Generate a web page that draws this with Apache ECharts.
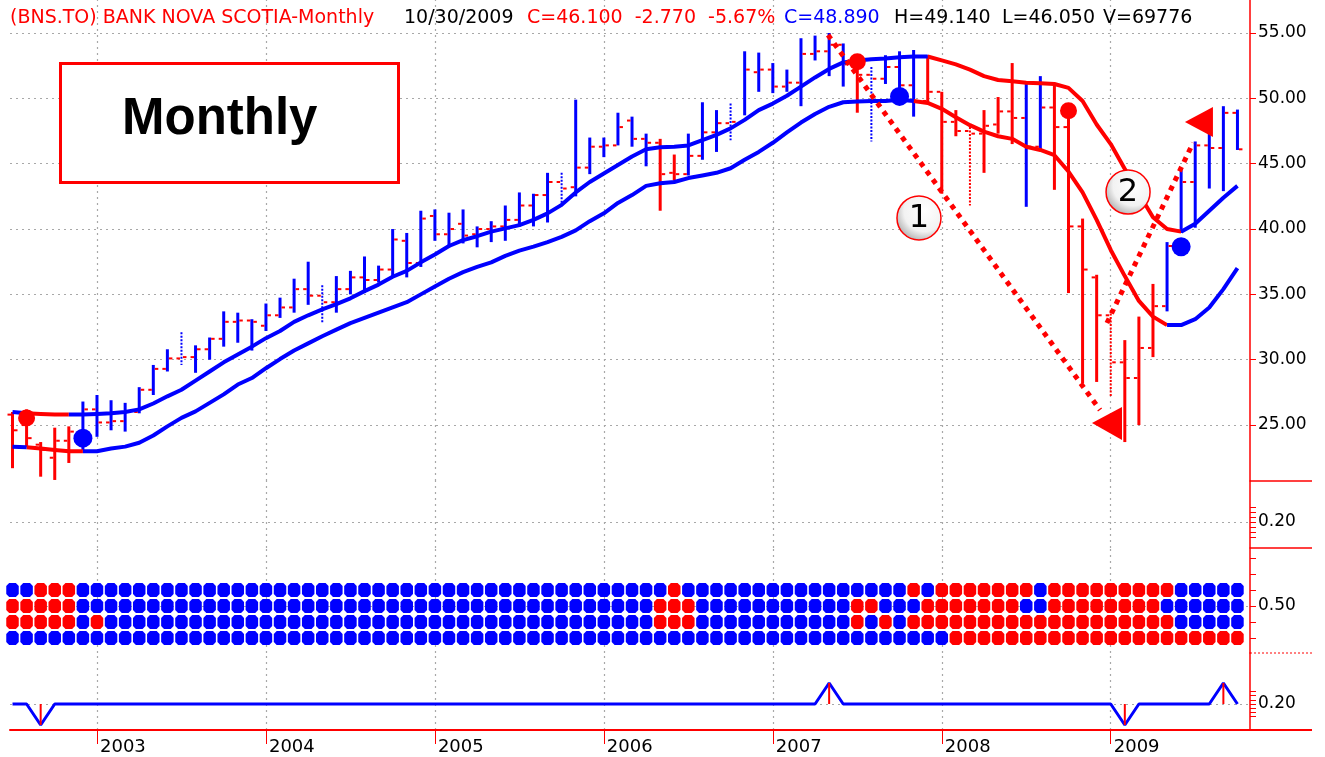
<!DOCTYPE html>
<html><head><meta charset="utf-8">
<script src="https://cdn.jsdelivr.net/npm/echarts@6/dist/echarts.min.js"></script>
<style>html,body{margin:0;padding:0;background:#fff}#c{width:1325px;height:757px}</style>
</head><body><div id="c"></div>
<script>
// ---------- DATA ----------
const yearLabels = ['2003','2004','2005','2006','2007','2008','2009'];
const yearTickIndex = [6,18,30,42,54,66,78];           // month index of January of each year (0 = Jul 2002)
const priceTicks = [25,30,35,40,45,50,55];

const barOpen = [25.8,25.0,23.5,22.5,23.8, 24.5,26.2,25.2,25.3,26.0, 27.7,29.3,30.1,30.2,30.8, 31.6,32.9,33.0,32.6,33.4,
  34.0,35.4,34.9,34.4,35.4, 36.3,36.1,36.9,39.1,37.4, 41.0,39.6,40.4,39.6,40.0, 40.2,40.7,41.8,42.6,43.6,
  43.2,44.7,46.3,46.4,48.3, 46.9,46.6,44.3,44.2,45.6, 47.4,48.1,48.2,52.0,52.2, 50.9,51.2,53.4,53.6,54.1,
  52.6,51.8,51.5,52.4,51.0, 49.8,50.5,48.2,47.5,47.3, 48.0,49.0,48.5,46.3,49.3, 47.8,40.2,36.3,33.4,29.8,
  28.6,30.9,34.1,39.9,43.6, 46.4,46.2,48.89];
const barHigh = [26.0,26.2,23.7,24.8,24.9, 26.8,27.3,26.9,26.7,27.9, 29.6,30.8,32.1,31.1,31.7, 33.7,33.6,33.1,34.3,34.75,
  36.2,37.5,35.7,36.4,36.8, 37.9,37.2,40.0,39.7,41.4, 41.5,41.25,41.5,40.2,40.6, 41.8,42.8,42.7,44.3,44.3,
  49.9,47.0,47.0,48.9,48.6, 47.3,46.9,45.7,47.3,49.7, 49.1,49.6,53.6,53.5,52.7, 52.2,54.6,54.8,55.0,54.2,
  53.1,52.4,53.3,53.6,53.7, 53.3,50.5,49.1,47.8,49.1, 50.1,52.7,51.2,51.7,51.0, 49.4,40.8,36.5,33.8,31.5,
  33.3,35.8,39.0,44.5,46.7, 47.3,49.4,49.14];
const barLow = [21.7,23.3,21.05,20.8,22.1, 23.1,24.1,24.6,24.5,25.9, 27.3,29.1,29.6,29.0,30.0, 31.0,31.3,30.7,32.2,33.2,
  33.6,34.2,32.8,33.6,35.0, 35.1,35.9,36.3,36.3,37.1, 39.1,38.6,38.9,38.6,39.0, 39.1,40.2,40.2,40.5,41.7,
  42.5,44.2,45.5,46.4,46.3, 44.8,41.4,43.7,44.1,45.3, 45.9,46.8,48.7,50.5,50.4, 50.5,49.4,52.9,51.7,50.9,
  48.9,46.7,51.1,49.5,48.6, 49.7,42.7,47.1,41.8,44.3, 47.3,46.5,41.7,46.0,43.0, 35.1,28.2,28.3,27.2,23.7,
  25.0,30.2,33.7,39.7,40.1, 43.1,42.9,46.05];
const barClose = [24.6,24.0,23.1,23.8,24.5, 26.2,25.2,25.3,26.0,27.7, 29.3,30.1,30.2,30.8,31.6, 32.9,33.0,32.9,33.4,34.0,
  35.4,34.9,34.4,35.4,36.3, 36.1,36.9,39.2,37.4,40.8, 39.6,40.0,39.5,40.0,40.2, 40.7,41.8,42.6,43.6,43.1,
  44.7,46.3,46.4,47.8,46.9, 46.6,44.2,44.2,45.6,47.4, 48.1,48.2,52.2,52.2,50.9, 51.2,53.4,53.6,54.1,52.6,
  51.8,51.5,52.4,51.0,49.8, 50.5,48.2,47.5,47.3,47.9, 49.0,48.5,46.3,49.3,47.8, 40.2,36.9,33.4,29.8,28.6,
  30.9,34.1,38.7,43.6,46.4, 46.2,48.89,46.1];
// bar trend state (R = down, B = up) as runs
const barTrendRuns = [['R',5],['B',41],['R',2],['B',12],['R',1],['B',4],['R',7],['B',2],['R',8],['B',6]];
const neutralBars = [12,22,39,51,61,68,78];

const upperBand = [26.0,25.9,25.85,25.8,25.8, 25.8,25.85,25.9,26.0,26.2, 26.65,27.2,27.7,28.4,29.1, 29.8,30.4,31.0,31.65,32.2,
  32.9,33.4,33.85,34.25,34.7, 35.25,35.75,36.35,36.8,37.45, 38.05,38.7,39.15,39.45,39.8, 40.05,40.3,40.7,41.2,41.85,
  42.8,43.6,44.25,44.9,45.55, 46.1,46.25,46.3,46.4,46.8, 47.2,47.7,48.35,49.1,49.6, 50.2,50.9,51.6,52.25,52.75,
  52.9,53.0,53.05,53.15,53.2, 53.2,52.9,52.6,52.2,51.7, 51.4,51.3,51.2,51.15,51.1, 50.8,49.8,48.0,46.5,44.6,
  42.7,40.9,40.0,39.8,40.4, 41.4,42.4,43.3];
const lowerBand = [23.35,23.3,23.2,23.1,23.0, 23.0,23.0,23.2,23.35,23.65, 24.2,24.9,25.55,26.05,26.7, 27.35,28.1,28.6,29.35,30.05,
  30.7,31.25,31.8,32.3,32.8, 33.2,33.6,34.0,34.4,35.0, 35.6,36.2,36.7,37.1,37.45, 37.95,38.35,38.65,39.0,39.4,
  39.9,40.6,41.2,42.0,42.6, 43.3,43.5,43.6,43.9,44.1, 44.3,44.65,45.3,45.9,46.6, 47.4,48.15,48.8,49.35,49.7,
  49.75,49.8,49.8,49.9,49.8, 49.65,49.2,48.55,47.95,47.45, 47.1,46.9,46.3,46.05,45.65, 44.4,42.8,40.7,38.4,36.4,
  34.5,33.3,32.65,32.65,33.1, 34.0,35.4,37.0];
const upperStateRuns = [['B',1],['R',3],['B',61],['R',18],['B',5]];
const lowerStateRuns = [['B',1],['R',4],['B',59],['R',18],['B',6]];

const redDots  = [[1,25.55],[60,52.8],[75,49.05]];
const blueDots = [[5,24.0],[63,50.15],[83,38.65]];

// annotations (data coordinates: month index, price)
const arrowLines = [[57.92,54.85,77.24,26.15],[77.73,32.81,83.85,46.6]];
const arrowHeads = [[76.67,25.16,78.8,26.38,23.86],[83.27,48.19,85.26,49.34,47.04]];
const circledNumbers = [[64.38,40.85],[79.23,42.83]];
const circledTexts = ['1','2'];

// dot matrix rows (top to bottom), run-length
const dotRows = [
  [['B',2],['R',3],['B',42],['R',1],['B',16],['R',1],['B',1],['R',7],['B',1],['R',9],['B',5]],
  [['R',5],['B',41],['R',3],['B',11],['R',2],['B',3],['R',7],['B',2],['R',8],['B',6]],
  [['R',5],['B',1],['R',1],['B',39],['R',3],['B',11],['R',1],['B',1],['R',1],['B',1],['R',19],['B',5]],
  [['B',67],['R',21]]
];
const dotRowValues = [0.65,0.5,0.35,0.2];

// bottom oscillator, run-length
const oscRuns = [[0.2,2],[0.0,1],[0.2,55],[0.4,1],[0.2,20],[0.0,1],[0.2,6],[0.4,1],[0.2,1]];
const oscBase = 0.2;

// ---------- BUILD ----------
const RED = '#ff0000', BLUE = '#0000ff';
function expand(runs){const out=[];runs.forEach(([v,n])=>{for(let k=0;k<n;k++)out.push(v);});return out;}
const barTrend = expand(barTrendRuns);
const upperState = expand(upperStateRuns);
const lowerState = expand(lowerStateRuns);
const osc = expand(oscRuns);

const ohlc = barClose.map((c,i)=>[i,barOpen[i],barHigh[i],barLow[i],c,barTrend[i]==='R'?1:0,neutralBars.indexOf(i)>=0?1:0]);

function segData(vals, state, col){
  return vals.map((v,i)=>{
    const on = state[i]===col || (i>0 && state[i-1]===col);
    return [i, on ? v : null];
  });
}

const dotsBlue=[], dotsRed=[];
dotRows.forEach((runs,r)=>{ expand(runs).forEach((c,i)=>{ (c==='R'?dotsRed:dotsBlue).push([i,dotRowValues[r]]); }); });

const XMIN=-0.178, XMAX=87.891;
const FONT='DejaVu Sans';
const gridDefs=[{top:0,height:481},{top:481,height:67},{top:548,height:105},{top:653,height:77}];
const OCT='path://M3,0L10,0L13,3L13,11L10,14L3,14L0,11L0,3Z';

function xAx(gi, show){
  return {type:'value', gridIndex:gi, min:XMIN, max:XMAX,
    axisLine:{show:show, onZero:false, lineStyle:{color:RED,width:2}},
    axisTick:{show:show, customValues:yearTickIndex, length:14, lineStyle:{color:RED,width:1}},
    axisLabel:{show:show, customValues:yearTickIndex, align:'left', margin:8, padding:[0,0,0,3], color:'#000', fontSize:18, fontFamily:FONT,
      formatter:v=>{const k=yearTickIndex.indexOf(Math.round(v));return k>=0?yearLabels[k]:'';}},
    splitLine:{show:false}};
}
function yAx(gi,min,max,ticks,labels,fmt){
  return {type:'value', gridIndex:gi, position:'right', min:min, max:max,
    axisLine:{show:true, onZero:false, lineStyle:{color:RED,width:1.5}},
    axisTick:{show:true, customValues:ticks, length:6, lineStyle:{color:RED,width:1}},
    axisLabel:{show:true, customValues:labels, formatter:fmt, color:'#000', fontSize:17, fontFamily:FONT, margin:8},
    splitLine:{show:false}};
}
function gridLines(gi, hVals){
  const d = yearTickIndex.map(v=>({xAxis:v})).concat(hVals.map(v=>({yAxis:v})));
  return {type:'line', xAxisIndex:gi, yAxisIndex:gi, data:[], z:0, silent:true,
    markLine:{silent:true, z:0, zlevel:0, symbol:['none','none'], label:{show:false}, animation:false,
      lineStyle:{color:'#a8a8a8', type:[2,4], width:1.2}, data:d}};
}

const series = [
  gridLines(0, priceTicks),
  {type:'custom', xAxisIndex:0, yAxisIndex:0, z:3, data:ohlc, encode:{x:0,y:[2,3]},
    renderItem:function(p,api){
      const i=api.value(0);
      const o=api.coord([i,api.value(1)]), h=api.coord([i,api.value(2)]), l=api.coord([i,api.value(3)]), c=api.coord([i,api.value(4)]);
      const col=api.value(5)?RED:BLUE, neu=api.value(6);
      return {type:'group', children:[
        {type:'line', shape:{x1:h[0],y1:h[1],x2:l[0],y2:l[1]}, style:{stroke:col,lineWidth:neu?2:3,lineDash:neu?[2,1.5]:null}},
        {type:'line', shape:{x1:o[0]-5,y1:o[1],x2:o[0]-1.5,y2:o[1]}, style:{stroke:RED,lineWidth:2}},
        {type:'line', shape:{x1:c[0]+1.5,y1:c[1],x2:c[0]+5,y2:c[1]}, style:{stroke:RED,lineWidth:2}}
      ]};
    }},
  {type:'line', xAxisIndex:0, yAxisIndex:0, z:4, data:segData(upperBand,upperState,'R'), showSymbol:false, symbol:'none', lineStyle:{color:RED,width:4}, connectNulls:false},
  {type:'line', xAxisIndex:0, yAxisIndex:0, z:4, data:segData(upperBand,upperState,'B'), showSymbol:false, symbol:'none', lineStyle:{color:BLUE,width:4}, connectNulls:false},
  {type:'line', xAxisIndex:0, yAxisIndex:0, z:4, data:segData(lowerBand,lowerState,'R'), showSymbol:false, symbol:'none', lineStyle:{color:RED,width:4}, connectNulls:false},
  {type:'line', xAxisIndex:0, yAxisIndex:0, z:4, data:segData(lowerBand,lowerState,'B'), showSymbol:false, symbol:'none', lineStyle:{color:BLUE,width:4}, connectNulls:false},
  {type:'scatter', xAxisIndex:0, yAxisIndex:0, z:6, data:redDots, symbol:'circle', symbolSize:17, itemStyle:{color:RED,opacity:1}},
  {type:'scatter', xAxisIndex:0, yAxisIndex:0, z:6, data:blueDots, symbol:'circle', symbolSize:19, itemStyle:{color:BLUE,opacity:1}},
  {type:'custom', xAxisIndex:0, yAxisIndex:0, z:7, data:arrowLines, encode:{x:[0,2],y:[1,3]},
    renderItem:function(p,api){
      const a=api.coord([api.value(0),api.value(1)]), b=api.coord([api.value(2),api.value(3)]);
      return {type:'line', shape:{x1:a[0],y1:a[1],x2:b[0],y2:b[1]}, style:{stroke:RED,lineWidth:5,lineDash:[5,5.5]}};
    }},
  {type:'custom', xAxisIndex:0, yAxisIndex:0, z:7, data:arrowHeads, encode:{x:[0,2],y:[1,3]},
    renderItem:function(p,api){
      const t=api.coord([api.value(0),api.value(1)]), b1=api.coord([api.value(2),api.value(3)]), b2=api.coord([api.value(2),api.value(4)]);
      return {type:'polygon', shape:{points:[t,b1,b2]}, style:{fill:RED}};
    }},
  {type:'custom', xAxisIndex:0, yAxisIndex:0, z:8, data:circledNumbers, encode:{x:0,y:1},
    renderItem:function(p,api){
      const c=api.coord([api.value(0),api.value(1)]);
      return {type:'group', children:[
        {type:'circle', shape:{cx:c[0],cy:c[1],r:22}, style:{fill:new echarts.graphic.RadialGradient(0.62,0.35,0.75,[{offset:0,color:'#ffffff'},{offset:0.6,color:'#f2f2f2'},{offset:1,color:'#a0a0a0'}]), stroke:RED, lineWidth:1.5}},
        {type:'text', style:{text:circledTexts[p.dataIndex], x:c[0], y:c[1]+1, align:'center', verticalAlign:'middle', fontSize:32, fontFamily:FONT, fill:'#000'}}
      ]};
    }},
  gridLines(1, [0.2]),
  gridLines(2, [0.5]),
  {type:'scatter', xAxisIndex:2, yAxisIndex:2, z:10, data:dotsBlue, symbol:OCT, symbolSize:[12.5,14], itemStyle:{color:BLUE,opacity:1}},
  {type:'scatter', xAxisIndex:2, yAxisIndex:2, z:10, data:dotsRed, symbol:OCT, symbolSize:[12.5,14], itemStyle:{color:RED,opacity:1}},
  gridLines(3, [0.2]),
  {type:'line', xAxisIndex:3, yAxisIndex:3, z:10, data:osc.map((v,i)=>[i,v]), showSymbol:false, symbol:'none', lineStyle:{color:BLUE,width:3}},
  {type:'custom', xAxisIndex:3, yAxisIndex:3, z:11, data:osc.map((v,i)=>[i,v]).filter(d=>d[1]!==oscBase), encode:{x:0,y:1},
    renderItem:function(p,api){
      const a=api.coord([api.value(0),oscBase]), b=api.coord([api.value(0),api.value(1)]);
      return {type:'line', shape:{x1:a[0],y1:a[1],x2:b[0],y2:b[1]}, style:{stroke:RED,lineWidth:2}};
    }}
];

const hdrY = 20;
const hdr = (text,x,color)=>({type:'text', left:x, top:hdrY-11, z:20, style:{text:text, fill:color, fontSize:19, fontFamily:FONT}});

const option = {
  animation:false,
  backgroundColor:'#ffffff',
  grid: gridDefs.map(g=>({left:10, right:75, top:g.top, height:g.height, containLabel:false})),
  xAxis:[xAx(0,false),xAx(1,false),xAx(2,false),xAx(3,true)],
  yAxis:[
    yAx(0,20.72,57.525,priceTicks,priceTicks,v=>v.toFixed(2)),
    yAx(1,0.122,0.322,[0.155,0.17,0.185,0.2,0.215,0.23,0.245],[0.2],v=>v.toFixed(2)),
    yAx(2,0.0595,1.0435,[0.2,0.35,0.5,0.65,0.8,0.95],[0.5],v=>v.toFixed(2)),
    yAx(3,-0.0476,0.6857,[0.08,0.12,0.16,0.2,0.24,0.28,0.32],[0.2],v=>v.toFixed(2))
  ],
  series: series,
  graphic:[
    hdr('(BNS.TO) BANK NOVA SCOTIA-Monthly',10,RED),
    hdr('10/30/2009',404,'#000'),
    hdr('C=46.100  -2.770  -5.67%',527,RED),
    hdr('C=48.890',784,BLUE),
    hdr('H=49.140',894,'#000'),
    hdr('L=46.050',1002,'#000'),
    hdr('V=69776',1103,'#000'),
    {type:'rect', left:59, top:62, z:20, shape:{width:338,height:119}, style:{fill:'#fff', stroke:RED, lineWidth:3}},
    {type:'text', left:122, top:94, z:21, style:{text:'Monthly', fontSize:51, fontWeight:'bold', fontFamily:'Liberation Sans', fill:'#000'}},
    {type:'line', z:20, shape:{x1:1250,y1:481,x2:1312,y2:481}, style:{stroke:RED,lineWidth:1.5}},
    {type:'line', z:20, shape:{x1:1250,y1:548,x2:1312,y2:548}, style:{stroke:RED,lineWidth:1.5}},
    {type:'line', z:20, shape:{x1:1250,y1:653,x2:1312,y2:653}, style:{stroke:RED,lineWidth:1,lineDash:[2,2]}},
    {type:'line', z:20, shape:{x1:1250,y1:730,x2:1312,y2:730}, style:{stroke:RED,lineWidth:2}}
  ]
};
const chart = echarts.init(document.getElementById('c'), null, {renderer:'canvas'});
chart.setOption(option);
</script></body></html>
